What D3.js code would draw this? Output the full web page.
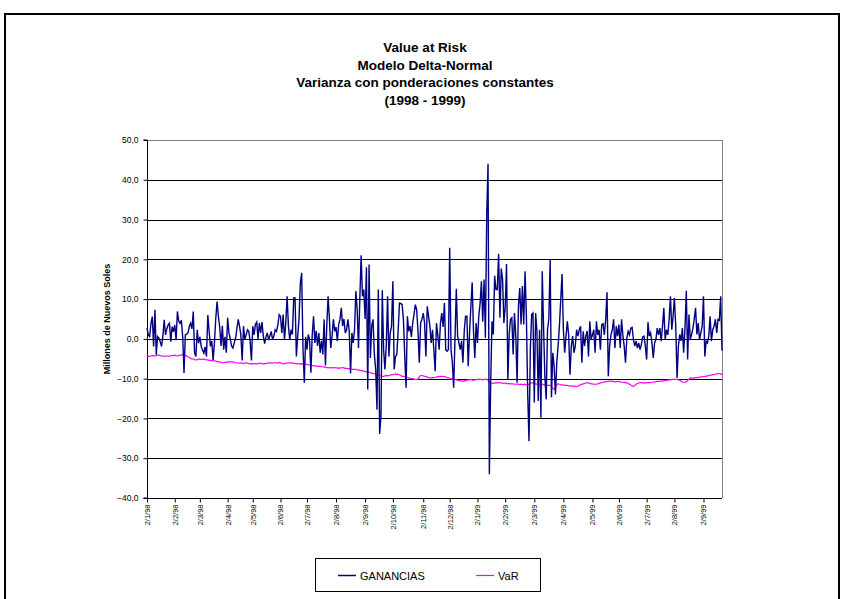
<!DOCTYPE html>
<html>
<head>
<meta charset="utf-8">
<script src="https://cdn.jsdelivr.net/npm/d3@7"></script>
<style>
  body { margin: 0; background: #fff; }
  svg { display: block; font-family: "Liberation Sans", Arial, sans-serif; }
</style>
</head>
<body>
<script>
// titulos
var titleLines = ['Value at Risk', 'Modelo Delta-Normal', 'Varianza con ponderaciones constantes', '(1998 - 1999)'];
var yTitle = 'Millones de Nuevos Soles';

// meses (etiqueta del eje y dias habiles en cada mes)
var monthLabels = ['2/1/98','2/2/98','2/3/98','2/4/98','2/5/98','2/6/98','2/7/98','2/8/98','2/9/98','2/10/98','2/11/98','2/12/98',
                   '2/1/99','2/2/99','2/3/99','2/4/99','2/5/99','2/6/99','2/7/99','2/8/99','2/9/99'];
var monthDays = [21,19,21,19,21,20,22,22,21,23,20,21, 21,22,22,22,20,21,21,22,15];

var yTicks = [-40,-30,-20,-10,0,10,20,30,40,50];

// GANANCIAS diarias (millones)
var ganancias = [
  2.7,1.0,0.6,3.9,5.6,-1.9,7.3,-4.0,0.6,0.2, -0.7,-1.9,0.6,4.8,1.0,2.5,3.5,3.9,-0.7,3.1,
  1.8,3.5,-0.3,6.9,4.5,3.9,4.7,0.6,-8.6,1.0, 1.2,1.5,3.1,3.9,2.5,6.9,-3.6,-4.4,2.3,-1.1,
  0.5,-1.9,-2.8,-3.6,-2.0,-4.4,6.0,2.0,-1.9,-0.5, -5.3,-1.1,5.0,9.4,5.7,3.0,-1.8,3.3,-2.7,0.5,
  -3.5,5.3,1.5,0.0,-1.8,-2.3,-1.0,0.2,2.5,4.9, 3.2,1.0,-5.4,3.2,-0.2,1.0,2.3,1.9,-0.5,-5.4,
  3.2,1.0,3.6,4.2,0.0,4.0,1.5,4.2,0.7,-1.2, 0.5,1.5,-0.3,0.8,1.9,-0.2,0.8,2.3,1.9,3.5,
  6.1,5.7,1.5,6.1,-0.3,4.0,10.7,3.2,-0.2,2.3, 1.1,10.3,10.3,-4.4,0.7,5.0,14.0,16.6,-2.3,-11.0,
  0.5,-2.7,1.1,-0.2,-8.5,1.0,5.7,-1.0,2.0,-1.8, 1.5,-3.5,-0.5,-3.9,4.9,-6.7,3.2,10.7,5.0,-2.3,
  0.7,4.9,1.9,3.0,-0.6,3.6,4.9,7.8,3.2,5.0, 1.5,2.3,4.9,2.0,-8.7,1.5,-1.0,2.3,12.0,7.4,
  -2.3,9.9,21.0,10.7,12.4,5.0,18.0,-12.7,18.7,-4.8, 3.2,4.9,-3.9,-7.7,-17.8,12.4,-23.9,-19.4,12.2,-2.7,
  -7.7,-1.8,10.7,-4.4,1.5,3.2,14.5,-7.7,-4.4,-3.9, 2.0,9.0,8.9,8.6,4.9,-4.4,-12.3,5.7,1.9,3.2,
  0.5,4.0,6.1,8.6,7.4,2.0,-6.0,4.0,4.9,6.5, 4.0,-4.4,8.2,5.7,3.2,-1.0,2.3,-2.7,-8.1,4.0,
  1.0,-2.7,4.0,6.5,3.0,9.0,-2.7,-3.1,-2.7,22.9, -2.7,-6.0,-12.3,0.0,12.6,0.7,-1.0,-2.7,-0.5,-6.0,
  2.0,5.7,5.7,-6.9,1.5,8.0,14.2,2.0,-4.8,4.0, -1.0,5.7,9.0,14.5,4.4,14.9,0.2,30.8,44.0,-34.0,
  -11.0,4.4,1.1,15.9,12.4,12.4,21.4,5.3,17.7,14.9, 4.0,8.0,18.8,-10.2,1.1,4.9,5.3,-3.9,6.5,0.7,
  -11.0,8.2,12.8,3.6,13.3,3.6,17.0,6.1,-13.6,-25.7, -2.7,6.1,6.5,-16.0,6.5,2.0,-15.6,2.3,-19.8,17.0,
  3.0,-9.4,-15.2,2.3,5.0,20.0,-14.7,-3.5,-6.9,-14.0, -6.0,-1.8,3.2,9.9,16.3,2.3,-3.5,0.7,4.4,1.0,
  -9.0,-1.8,0.7,-3.5,-1.8,2.3,0.7,2.3,3.2,-6.0, 1.9,-1.8,0.7,2.0,-4.4,4.4,-0.2,1.0,2.3,-3.5,
  4.4,1.0,2.3,-2.7,3.6,3.8,1.0,4.9,11.7,-9.4, -1.8,1.0,2.3,4.9,-2.3,3.2,0.7,3.6,-2.3,4.9,
  1.0,-1.8,-6.0,0.2,1.9,1.0,2.7,2.9,-0.2,-1.8, -0.5,-2.3,-1.0,-2.7,-1.4,0.5,0.7,-1.8,-5.2,4.2,
  0.7,1.5,-1.0,-4.8,-1.0,-0.2,2.7,1.0,2.7,-0.6, 3.2,7.8,-0.2,2.3,1.0,4.9,10.7,2.3,5.7,10.3,
  3.2,-9.8,-1.8,1.1,-0.5,2.7,-3.5,2.7,12.1,-5.2, 6.1,-0.2,1.1,2.7,5.0,7.8,1.1,4.0,-0.2,1.5,
  3.2,10.7,-4.4,-0.6,-1.0,0.7,5.7,-0.6,2.3,3.2, 4.9,1.5,4.9,4.7,10.7,-3.0
];

// VaR diario (millones)
var valueAtRisk = [
  -4.5,-4.4,-4.4,-4.3,-4.2,-4.2,-4.3,-4.2,-4.1,-4.1, -4.2,-4.3,-4.3,-4.4,-4.3,-4.3,-4.4,-4.3,-4.2,-4.2,
  -4.2,-4.1,-4.2,-4.3,-4.2,-4.1,-4.0,-4.1,-4.2,-4.1, -4.3,-4.5,-4.7,-4.9,-5.1,-5.0,-5.2,-5.3,-5.2,-5.1,
  -5.1,-5.2,-5.1,-5.1,-5.2,-5.3,-5.3,-5.4,-5.4,-5.5, -5.4,-5.5,-5.6,-5.7,-5.8,-5.8,-5.9,-6.0,-6.0,-5.9,
  -5.9,-5.8,-5.8,-5.7,-5.8,-5.8,-5.9,-6.0,-6.0,-6.1, -6.1,-6.0,-6.1,-6.2,-6.1,-6.0,-6.1,-6.2,-6.2,-6.3,
  -6.3,-6.2,-6.2,-6.3,-6.2,-6.1,-6.2,-6.2,-6.3,-6.2, -6.2,-6.1,-6.1,-6.0,-6.1,-6.1,-6.0,-6.0,-6.1,-6.0,
  -5.9,-6.0,-6.2,-6.3,-6.2,-6.1,-6.1,-6.0,-6.1,-6.0, -6.1,-6.1,-6.2,-6.2,-6.3,-6.3,-6.2,-6.3,-6.4,-6.3,
  -6.4,-6.4,-6.5,-6.6,-6.6,-6.7,-6.7,-6.8,-6.8,-6.9, -6.9,-6.9,-7.0,-7.0,-7.1,-7.1,-7.2,-7.2,-7.3,-7.2,
  -7.3,-7.3,-7.2,-7.3,-7.3,-7.4,-7.3,-7.3,-7.2,-7.3, -7.4,-7.4,-7.5,-7.5,-7.6,-7.6,-7.7,-7.6,-7.7,-7.8,
  -7.8,-7.9,-8.0,-8.0,-8.1,-8.2,-8.3,-8.4,-8.4,-8.5, -8.6,-8.7,-8.8,-8.9,-9.0,-9.0,-9.2,-9.3,-9.4,-9.4,
  -9.3,-9.2,-9.3,-9.2,-9.1,-9.0,-9.0,-8.9,-8.8,-8.9, -8.9,-9.0,-9.2,-9.4,-9.4,-9.5,-9.6,-9.7,-9.8,-9.9,
  -10.0,-10.0,-10.1,-10.2,-10.2,-10.1,-9.6,-9.2,-9.2,-9.3, -9.4,-9.5,-9.6,-9.7,-9.8,-9.8,-9.7,-9.8,-9.7,-9.6,
  -9.5,-9.5,-9.4,-9.4,-9.5,-9.4,-9.6,-9.7,-9.8,-9.9, -10.0,-10.1,-10.2,-10.2,-10.3,-10.4,-10.5,-10.5,-10.6,-10.6,
  -10.6,-10.5,-10.4,-10.3,-10.3,-10.2,-10.3,-10.4,-10.3,-10.2, -10.2,-10.1,-10.2,-10.2,-10.3,-10.2,-10.2,-10.2,-10.4,-11.0,
  -11.3,-11.2,-11.1,-11.1,-11.0,-11.1,-11.0,-11.0,-11.1,-11.1, -11.2,-11.1,-11.2,-11.3,-11.2,-11.3,-11.3,-11.3,-11.4,-11.4,
  -11.3,-11.4,-11.5,-11.4,-11.5,-11.5,-11.4,-11.5,-11.6,-11.4, -11.2,-11.1,-11.0,-11.2,-11.3,-11.4,-11.4,-11.5,-11.5,-11.4,
  -11.5,-11.6,-11.6,-11.7,-11.7,-11.7,-12.0,-12.4,-12.7,-12.3, -11.4,-11.3,-11.4,-11.5,-11.6,-11.6,-11.7,-11.7,-11.7,-11.8,
  -11.8,-11.9,-11.8,-11.9,-11.9,-12.0,-11.9,-11.7,-11.5,-11.4, -11.3,-11.2,-11.1,-11.0,-11.1,-11.2,-11.3,-11.3,-11.4,-11.4,
  -11.4,-11.3,-11.2,-11.1,-11.0,-10.9,-10.8,-10.8,-10.7,-10.6, -10.6,-10.6,-10.7,-10.7,-10.8,-10.8,-10.7,-10.7,-10.8,-10.9,
  -10.9,-11.0,-11.0,-11.0,-11.2,-11.4,-11.6,-11.8,-11.9,-11.7, -11.4,-11.2,-11.1,-11.0,-11.0,-11.0,-11.1,-11.1,-11.0,-11.0,
  -11.0,-11.0,-10.9,-10.9,-10.8,-10.8,-10.7,-10.7,-10.7,-10.6, -10.6,-10.5,-10.5,-10.4,-10.4,-10.3,-10.3,-10.2,-10.2,-10.2,
  -10.2,-10.2,-10.3,-10.4,-10.6,-10.8,-10.9,-10.9,-10.8,-10.5, -10.1,-9.8,-9.8,-9.9,-9.8,-9.8,-9.8,-9.7,-9.6,-9.6,
  -9.5,-9.5,-9.4,-9.4,-9.3,-9.2,-9.1,-9.1,-9.0,-9.0, -8.9,-8.8,-8.7,-8.7,-8.8,-9.0
];

var seriesNames = ['GANANCIAS', 'VaR'];
var seriesColors = ['#000080', '#ff00ff'];

var W = 849, H = 599;
var plot = {left: 147, right: 722, top: 140, bottom: 498};

var svg = d3.select('body').append('svg').attr('width', W).attr('height', H);

// borde exterior del grafico
svg.append('rect')
   .attr('x', 5).attr('y', 14)
   .attr('width', 834).attr('height', 600)
   .attr('fill', 'none').attr('stroke', '#000').attr('stroke-width', 2);

// titulos
var title = svg.append('g').attr('font-weight', 'bold').attr('font-size', '13.5px').attr('text-anchor', 'middle');
titleLines.forEach(function(t, i){
	title.append('text').attr('x', 425).attr('y', 52 + i * 17.5).text(t);
});

var n = ganancias.length;
var x = d3.scaleLinear().domain([0, n - 1]).range([plot.left, plot.right]);
var y = d3.scaleLinear().domain([-40, 50]).range([plot.bottom, plot.top]);

// inicio de cada mes como indice
var monthStarts = [];
var acc = 0;
monthDays.forEach(function(d){ monthStarts.push(acc); acc += d; });

// lineas de grilla
svg.append('g')
   .selectAll('line').data(yTicks.filter(function(v){ return v > -40; }))
   .enter().append('line')
   .attr('x1', plot.left).attr('x2', plot.right)
   .attr('y1', function(d){ return Math.round(y(d)) + 0.5; })
   .attr('y2', function(d){ return Math.round(y(d)) + 0.5; })
   .attr('stroke', function(d){ return d == 50 ? '#808080' : '#000'; })
   .attr('stroke-width', 1);

// borde derecho del area de trazado
svg.append('line')
   .attr('x1', plot.right + 0.5).attr('x2', plot.right + 0.5)
   .attr('y1', plot.top).attr('y2', plot.bottom)
   .attr('stroke', '#808080');

// eje Y
var yAxis = d3.axisLeft(y).tickValues(yTicks).tickSize(4)
	.tickFormat(function(d){ return d3.format('.1f')(d).replace('.', ','); });
var gy = svg.append('g').attr('transform', 'translate(' + (plot.left + 0.5) + ',0)').call(yAxis);
gy.selectAll('text').attr('font-size', '8.5px').attr('font-family', 'Liberation Sans, Arial, sans-serif').attr('fill', '#000').attr('dx', '-2px');
gy.selectAll('line, path').attr('stroke', '#000');
gy.select('.domain').attr('d', 'M-4,' + plot.top + 'H0V' + plot.bottom + 'H-4');

svg.append('text')
   .attr('transform', 'translate(110,' + ((plot.top + plot.bottom) / 2) + ') rotate(-90)')
   .attr('text-anchor', 'middle').attr('font-weight', 'bold').attr('font-size', '9px')
   .text(yTitle);

// eje X (meses)
var xAxis = d3.axisBottom(x).tickValues(monthStarts).tickSize(4)
	.tickFormat(function(d, i){ return monthLabels[i]; });
var gx = svg.append('g').attr('transform', 'translate(0,' + (plot.bottom + 0.5) + ')').call(xAxis);
gx.select('.domain').attr('d', 'M' + plot.left + ',0H' + plot.right);
gx.selectAll('line, path').attr('stroke', '#000');
gx.selectAll('text')
  .attr('font-size', '7.5px').attr('font-family', 'Liberation Sans, Arial, sans-serif').attr('fill', '#000')
  .attr('text-anchor', 'end')
  .attr('transform', 'rotate(-90)')
  .attr('x', -6).attr('y', 0).attr('dy', '0.32em');

// series
var line = d3.line()
	.x(function(d, i){ return x(i); })
	.y(function(d){ return y(d); });

svg.append('path').datum(valueAtRisk)
   .attr('d', line).attr('fill', 'none')
   .attr('stroke', seriesColors[1]).attr('stroke-width', 1.2);

svg.append('path').datum(ganancias)
   .attr('d', line).attr('fill', 'none')
   .attr('stroke', seriesColors[0]).attr('stroke-width', 1.4)
   .attr('stroke-linejoin', 'miter');

// leyenda
var legend = svg.append('g');
legend.append('rect')
      .attr('x', 315.5).attr('y', 558.5).attr('width', 225).attr('height', 33)
      .attr('fill', '#fff').attr('stroke', '#000');
var legendX = [338, 476];
seriesNames.forEach(function(name, i){
	legend.append('line')
	      .attr('x1', legendX[i]).attr('x2', legendX[i] + 18)
	      .attr('y1', 575.5).attr('y2', 575.5)
	      .attr('stroke', seriesColors[i]).attr('stroke-width', i == 0 ? 1.5 : 1.2);
	legend.append('text')
	      .attr('x', legendX[i] + 22).attr('y', 579.5)
	      .attr('font-size', '11px')
	      .text(name);
});
</script>
</body>
</html>
